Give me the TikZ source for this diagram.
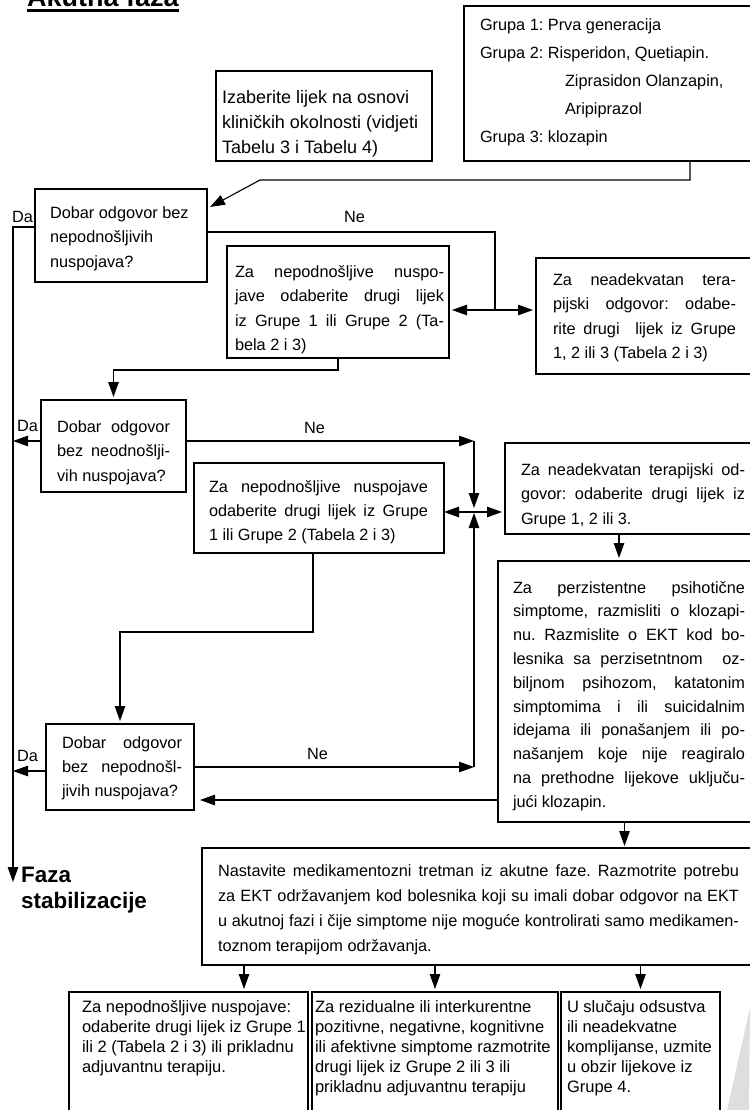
\documentclass[tikz,border=0pt]{standalone}
\usepackage{fontspec}
\setmainfont{Liberation Sans}
\usetikzlibrary{arrows.meta,calc}
\tolerance=10000
\hbadness=10000
\frenchspacing
\newcommand\jt[3]{\hspace*{#1pt}\parbox[t]{#2pt}{\spaceskip=0pt\xspaceskip=0pt\relax #3}}
\newcommand\rt[3]{\hspace*{#1pt}\parbox[t]{#2pt}{\raggedright\spaceskip=0pt\xspaceskip=0pt\relax #3}}

\begin{document}
\begin{tikzpicture}[
    x=1pt, y=-1pt,
    blok/.style={draw, line width=1.1pt, inner sep=0pt, outer sep=0pt, anchor=north west, align=flush left, font=\fontsize{16.3}{24.5}\selectfont},
    lbl/.style={inner sep=0pt, anchor=base west, font=\fontsize{16.3}{20}\selectfont},
    arr/.style={line width=1.1pt, -{Triangle[length=15pt,width=10.5pt]}},
    ln/.style={line width=1.1pt}
]
\useasboundingbox (0,0) rectangle (749,1110);

\node[anchor=base west, inner sep=0pt, font=\bfseries\fontsize{27}{30}\selectfont] (title) at (27,7) {Akutna faza};
\draw[line width=2.6pt] ($(title.base west)+(0,3.7)$) -- ($(title.base east)+(0,3.7)$);

\node[blok, text width=216pt, text height=33pt, text depth=57pt, font=\fontsize{18}{25}\selectfont] (izab) at (216,71)
    {\rt{6}{208}{Izaberite lijek na osnovi\\kliničkih okolnosti (vidjeti\\Tabelu 3 i Tabelu 4)}};
\node[blok, text width=287pt, text height=25pt, text depth=130pt, font=\fontsize{16.3}{28}\selectfont] (grupa) at (464,6)
    {\rt{16}{260}{Grupa 1: Prva generacija\\Grupa 2: Risperidon, Quetiapin.\\\hspace*{85pt}Ziprasidon Olanzapin,\\\hspace*{85pt}Aripiprazol\\Grupa 3: klozapin}};
\node[blok, text width=172pt, text height=29pt, text depth=64pt] (dob1) at (35,189)
    {\rt{15}{155}{Dobar odgovor bez\\nepodnošljivih\\nuspojava?}};
\node[blok, text width=222pt, text height=31pt, text depth=81pt] (zn1) at (227,246)
    {\jt{8}{209}{Za nepodnošljive nuspo-\linebreak jave odaberite drugi lijek\linebreak iz Grupe 1 ili Grupe 2 (Ta-\linebreak bela 2 i 3)}};
\node[blok, text width=215pt, text height=27pt, text depth=89pt] (za1) at (536,258)
    {\jt{17}{183}{Za neadekvatan tera-\linebreak pijski odgovor: odabe-\linebreak rite drugi\ \ lijek iz Grupe\linebreak 1, 2 ili 3 (Tabela 2 i 3)}};
\node[blok, text width=145pt, text height=32pt, text depth=60pt] (dob2) at (41,400)
    {\jt{16}{113}{Dobar odgovor\linebreak bez neodnošlji-\linebreak vih nuspojava?}};
\node[blok, text width=250pt, text height=29pt, text depth=61pt, font=\fontsize{16.3}{24}\selectfont] (zn2) at (194,463)
    {\jt{15}{219}{Za nepodnošljive nuspojave\linebreak odaberite drugi lijek iz Grupe\linebreak 1 ili Grupe 2 (Tabela 2 i 3)}};
\node[blok, text width=246pt, text height=32pt, text depth=59pt] (za2) at (505,443)
    {\jt{16}{224}{Za neadekvatan terapijski od-\linebreak govor: odaberite drugi lijek iz\linebreak Grupe 1, 2 ili 3.}};
\node[blok, text width=253pt, text height=32pt, text depth=229pt, font=\fontsize{16.3}{23.8}\selectfont] (perz) at (498,561)
    {\jt{15}{232}{Za perzistentne psihotične\linebreak simptome, razmisliti o klozapi-\linebreak nu. Razmislite o EKT kod bo-\linebreak lesnika sa perzisetntnom\ \ oz-\linebreak biljnom psihozom, katatonim\linebreak simptomima i ili suicidalnim\linebreak idejama ili ponašanjem ili po-\linebreak našanjem koje nije reagiralo\linebreak na prethodne lijekove uključu-\linebreak jući klozapin.}};
\node[blok, text width=148pt, text height=24pt, text depth=62pt, font=\fontsize{16.3}{24}\selectfont] (dob3) at (46,724)
    {\jt{16}{120}{Dobar odgovor\linebreak bez nepodnošl-\linebreak jivih nuspojava?}};
\node[blok, text width=549pt, text height=28pt, text depth=89pt, font=\fontsize{16.3}{25}\selectfont] (nast) at (202,848)
    {\jt{16}{521}{Nastavite medikamentozni tretman iz akutne faze. Razmotrite potrebu\linebreak za EKT održavanjem kod bolesnika koji su imali dobar odgovor na EKT\linebreak u akutnoj fazi i čije simptome nije moguće kontrolirati samo medikamen-\linebreak toznom terapijom održavanja.}};
\node[blok, text width=239pt, text height=20pt, text depth=104pt, font=\fontsize{16.5}{20}\selectfont] (bA) at (69,992)
    {\rt{13}{224}{Za nepodnošljive nuspojave:\\odaberite drugi lijek iz Grupe 1\\ili 2 (Tabela 2 i 3) ili prikladnu\\adjuvantnu terapiju.}};
\node[blok, text width=246pt, text height=20pt, text depth=104pt, font=\fontsize{16.5}{20}\selectfont] (bB) at (312,992)
    {\rt{3}{242}{Za rezidualne ili interkurentne\\pozitivne, negativne, kognitivne\\ili afektivne simptome razmotrite\\drugi lijek iz Grupe 2 ili 3 ili\\prikladnu adjuvantnu terapiju}};
\node[blok, text width=159pt, text height=20pt, text depth=104pt, font=\fontsize{16.5}{20}\selectfont] (bC) at (561,992)
    {\rt{6}{150}{U slučaju odsustva\\ili neadekvatne\\komplijanse, uzmite\\u obzir lijekove iz\\Grupe 4.}};

\node[anchor=base west, inner sep=0pt, text width=160pt, align=flush left, font=\bfseries\fontsize{22.4}{26}\selectfont] (faza) at (21,882) {Faza\\stabilizacije};

\node[lbl] (da1) at (12,222.5) {Da};
\node[lbl] (da2) at (17,431) {Da};
\node[lbl] (da3) at (17,761) {Da};
\node[lbl] (ne1) at (344,222) {Ne};
\node[lbl] (ne2) at (304,433) {Ne};
\node[lbl] (ne3) at (307,759) {Ne};

\coordinate (g1) at (690,180);
\coordinate (g2) at (260,180);
\coordinate (da) at (13,227);
\coordinate (stab) at (13,882);
\coordinate (n1) at (495,232);
\coordinate (x1) at (495,310);
\coordinate (cx) at (474,512);
\coordinate (r2) at (0,441);
\coordinate (r3) at (0,771);
\coordinate (r4) at (0,767);
\coordinate (r5) at (0,800);
\coordinate (kA) at (244,0);

\draw[arr] (grupa.south -| g1) -- (g1) -- (g2) -- ($(dob1.north east)+(3,18)$);
\draw[arr] (dob1.west |- da) -- (da) -- (stab);
\draw[ln] (dob1.east |- n1) -- (n1) -- (x1);
\draw[arr, shorten >=3pt] (x1) -- (zn1.east |- x1);
\draw[arr, shorten >=3pt] (x1) -- (za1.west |- x1);
\draw[arr, shorten >=3pt] (zn1.south) -- ++(0,12) -| (dob2.north);
\draw[arr] (dob2.west |- r2) -- (da |- r2);
\draw[arr] (dob2.east |- r2) -- (cx |- r2);
\draw[arr, shorten >=4pt] (cx |- r2) -- (cx);
\draw[arr] (cx) -- (zn2.east |- cx);
\draw[arr, shorten >=3pt] (cx) -- (za2.west |- cx);
\draw[arr] ([xshift=-9pt]za2.south) -- ++(0,24);
\draw[arr, shorten >=3pt] ([xshift=-6pt]zn2.south) -- ++(0,79) -| (dob3.north);
\draw[arr] (dob3.west |- r3) -- (da |- r3);
\draw[arr] (dob3.east |- r4) -- (cx |- r4);
\draw[arr, shorten >=1pt] (cx |- r4) -- (cx);
\draw[arr, shorten >=6pt] (perz.west |- r5) -- (dob3.east |- r5);
\draw[arr] (perz.south) -- ++(0,24);
\draw[arr, shorten >=3pt] (nast.south -| kA) -- (bA.north -| kA);
\draw[arr, shorten >=3pt] (nast.south -| bB.north) -- (bB.north);
\draw[arr, shorten >=3pt] (nast.south -| bC.north) -- (bC.north);

\fill[black!13] (750,1008) -- (749,1110) -- (727,1110) -- cycle;
\end{tikzpicture}
\end{document}
